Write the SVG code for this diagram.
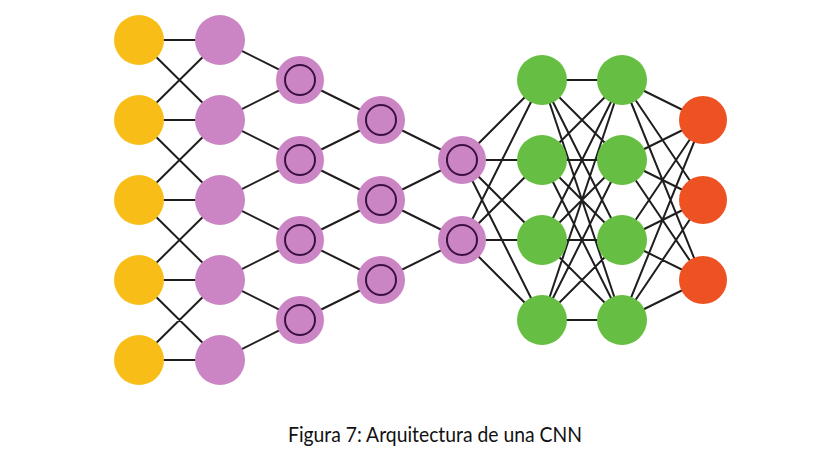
<svg xmlns="http://www.w3.org/2000/svg" width="823" height="466" viewBox="0 0 823 466">
<style>
.e{stroke:#1e1e1e;stroke-width:2;fill:none}
.y{fill:#F8BE17}
.p{fill:#CC85C4}
.r{fill:none;stroke:#3a0f42;stroke-width:2}
.g{fill:#66BF42}
.o{fill:#EE5223}
.t{font-family:Lato,"Liberation Sans",sans-serif;font-size:21px;fill:#111}
</style>
<rect width="823" height="466" fill="#fff"/>
<g id="connectors">
<path class="e" d="M139 40L220 40M139 120L220 120M139 200L220 200M139 280L220 280M139 360L220 360
M139 40L220 120M139 120L220 40M139 120L220 200M139 200L220 120M139 200L220 280M139 280L220 200M139 280L220 360M139 360L220 280
M220 40L300 80M220 120L300 80M220 120L300 160M220 200L300 160M220 200L300 240M220 280L300 240M220 280L300 320M220 360L300 320
M300 80L381 120M300 160L381 120M300 160L381 200M300 240L381 200M300 240L381 280M300 320L381 280
M381 120L462 160M381 200L462 160M381 200L462 240M381 280L462 240
M462 160L542 80M462 160L542 160M462 160L542 240M462 160L542 320M462 240L542 80M462 240L542 160M462 240L542 240M462 240L542 320
M542 80L622 80M542 80L622 160M542 80L622 240M542 80L622 320
M542 160L622 80M542 160L622 160M542 160L622 240M542 160L622 320
M542 240L622 80M542 240L622 160M542 240L622 240M542 240L622 320
M542 320L622 80M542 320L622 160M542 320L622 240M542 320L622 320
M622 80L703 120M622 80L703 200M622 80L703 280
M622 160L703 120M622 160L703 200M622 160L703 280
M622 240L703 120M622 240L703 200M622 240L703 280
M622 320L703 120M622 320L703 200M622 320L703 280"/>
</g>
<g id="input">
<circle class="y" cx="139" cy="40" r="25"/><circle class="y" cx="139" cy="120" r="25"/><circle class="y" cx="139" cy="200" r="25"/><circle class="y" cx="139" cy="280" r="25"/><circle class="y" cx="139" cy="360" r="25"/>
</g>
<g id="layer2">
<circle class="p" cx="220" cy="40" r="25"/><circle class="p" cx="220" cy="120" r="25"/><circle class="p" cx="220" cy="200" r="25"/><circle class="p" cx="220" cy="280" r="25"/><circle class="p" cx="220" cy="360" r="25"/>
</g>
<g id="layer3">
<circle class="p" cx="300" cy="80" r="24"/><circle class="r" cx="300" cy="80" r="15"/>
<circle class="p" cx="300" cy="160" r="24"/><circle class="r" cx="300" cy="160" r="15"/>
<circle class="p" cx="300" cy="240" r="24"/><circle class="r" cx="300" cy="240" r="15"/>
<circle class="p" cx="300" cy="320" r="24"/><circle class="r" cx="300" cy="320" r="15"/>
</g>
<g id="layer4">
<circle class="p" cx="381" cy="120" r="24"/><circle class="r" cx="381" cy="120" r="15"/>
<circle class="p" cx="381" cy="200" r="24"/><circle class="r" cx="381" cy="200" r="15"/>
<circle class="p" cx="381" cy="280" r="24"/><circle class="r" cx="381" cy="280" r="15"/>
</g>
<g id="layer5">
<circle class="p" cx="462" cy="160" r="24"/><circle class="r" cx="462" cy="160" r="15"/>
<circle class="p" cx="462" cy="240" r="24"/><circle class="r" cx="462" cy="240" r="15"/>
</g>
<g id="dense1">
<circle class="g" cx="542" cy="80" r="25"/><circle class="g" cx="542" cy="160" r="25"/><circle class="g" cx="542" cy="240" r="25"/><circle class="g" cx="542" cy="320" r="25"/>
</g>
<g id="dense2">
<circle class="g" cx="622" cy="80" r="25"/><circle class="g" cx="622" cy="160" r="25"/><circle class="g" cx="622" cy="240" r="25"/><circle class="g" cx="622" cy="320" r="25"/>
</g>
<g id="output">
<circle class="o" cx="703" cy="120" r="24"/><circle class="o" cx="703" cy="200" r="24"/><circle class="o" cx="703" cy="280" r="24"/>
</g>
<text class="t" x="288" y="442" textLength="294" lengthAdjust="spacingAndGlyphs">Figura 7: Arquitectura de una CNN</text>
</svg>
